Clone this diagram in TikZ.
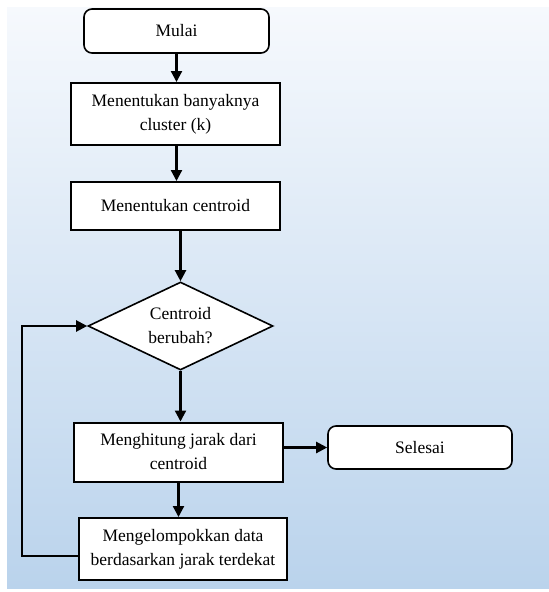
\documentclass[tikz,border=0pt]{standalone}
\usepackage{fontspec}
\setmainfont{Liberation Serif}
\usetikzlibrary{shapes.geometric,arrows.meta}
\definecolor{bgtop}{RGB}{246,249,253}
\definecolor{bgbottom}{RGB}{186,211,236}

\begin{document}
\begin{tikzpicture}[x=1pt,y=-1pt,
  proses/.style={draw, line width=2pt, fill=white, align=center, inner sep=0pt},
  ujung/.style={draw, line width=1.6pt, rounded corners=8pt, fill=white, align=center, inner sep=0pt},
  keputusan/.style={draw, line width=1.6pt, fill=white, diamond, aspect=2.1, align=center, inner sep=0pt},
  alur/.style={line width=2.2pt, -{Triangle[width=11pt,length=11pt]}},
  font=\fontsize{17.5}{24}\selectfont]
  \useasboundingbox (0,0) rectangle (549,592);
  \shade[top color=bgtop, bottom color=bgbottom] (7,7) rectangle (549,588);

  \node[ujung, minimum width=185pt, minimum height=44pt] (mulai) at (176.5,31) {Mulai};
  \node[proses, minimum width=209pt, minimum height=62pt] (jumlah) at (175.5,114) {Menentukan banyaknya\\cluster (k)};
  \node[proses, minimum width=209pt, minimum height=48pt] (centroid) at (175.5,206) {Menentukan centroid};
  \node[keputusan, minimum width=185pt, minimum height=88pt] (ubah) at (180.5,326) {Centroid\\berubah?};
  \node[proses, minimum width=209pt, minimum height=59pt] (hitung) at (178.5,452) {Menghitung jarak dari\\centroid};
  \node[ujung, minimum width=184pt, minimum height=43pt] (selesai) at (420,447.5) {Selesai};
  \node[proses, minimum width=208pt, minimum height=62pt] (kelompok) at (183,549) {Mengelompokkan data\\berdasarkan jarak terdekat};
  \coordinate (balik) at (22,556);

  \draw[alur] (mulai.south) -- (mulai.south |- jumlah.north);
  \draw[alur] (jumlah.south -| mulai.south) -- (mulai.south |- centroid.north);
  \draw[alur] (centroid.south -| ubah.north) -- (ubah.north);
  \draw[alur] (ubah.south) -- (ubah.south |- hitung.north);
  \draw[alur] (hitung.east |- selesai.west) -- (selesai.west);
  \draw[alur] (hitung.south) -- (hitung.south |- kelompok.north);
  \draw[alur] (kelompok.west |- balik) -- (balik) |- (ubah.west);
\end{tikzpicture}
\end{document}
